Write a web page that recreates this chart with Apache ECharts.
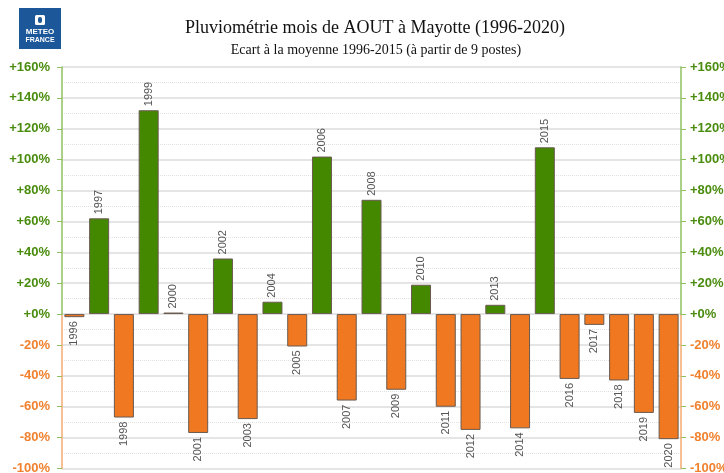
<!DOCTYPE html>
<html>
<head>
<meta charset="utf-8">
<script src="https://cdn.jsdelivr.net/npm/echarts@6/dist/echarts.min.js"></script>
<style>
html,body{margin:0;padding:0;background:#fff;}
#c{width:724px;height:473px;}
</style>
</head>
<body>
<div id="c"></div>
<script>
var years = ['1996','1997','1998','1999','2000','2001','2002','2003','2004','2005','2006','2007','2008','2009','2010','2011','2012','2013','2014','2015','2016','2017','2018','2019','2020'];
var ecarts = [-2, 62, -67, 132, 1, -77, 36, -68, 8, -21, 102, -56, 74, -49, 19, -60, -75, 6, -74, 108, -42, -7, -43, -64, -81];
var yMin = -100, yMax = 160, yStep = 20;

var GREEN = '#448800', ORANGE = '#ef7820';
var GREEN_TXT = '#4a8c0e', ORANGE_TXT = '#f0812e';
var GREEN_LINE = '#8fc060', ORANGE_LINE = '#f5aa70';
var zeroFrac = yMax / (yMax - yMin);

function splitGrad(){
  return new echarts.graphic.LinearGradient(0,0,0,1,[
    {offset:0,color:GREEN_LINE},{offset:zeroFrac,color:GREEN_LINE},
    {offset:zeroFrac,color:ORANGE_LINE},{offset:1,color:ORANGE_LINE}]);
}
function fmt(v){ return (v>=0?'+':'')+v+'%'; }
function labCol(v){ return v>=0?GREEN_TXT:ORANGE_TXT; }

var barData = ecarts.map(function(v){
  var pos = v>=0;
  return {
    value: v,
    itemStyle: {color: pos?GREEN:ORANGE},
    label: {position: pos?'top':'bottom', align: pos?'left':'right'}
  };
});

var chart = echarts.init(document.getElementById('c'), null, {renderer:'canvas'});
var axisCommon = {
  type:'value', min:yMin, max:yMax, interval:yStep,
  axisLine:{show:true, lineStyle:{color:splitGrad(), width:1.5}},
  axisTick:{show:true, length:5, lineStyle:{color:splitGrad(), width:1}},
  axisLabel:{formatter:fmt, color:labCol, fontFamily:'Liberation Sans', fontWeight:'bold', fontSize:13}
};
chart.setOption({
  animation:false,
  backgroundColor:'#fff',
  title:[
    {text:'Pluviométrie mois de AOUT à Mayotte (1996-2020)', left:370, top:14, textAlign:'center',
     textStyle:{fontFamily:'Liberation Serif', fontWeight:'normal', fontSize:18, color:'#111'}},
    {text:'Ecart à la moyenne 1996-2015 (à partir de 9 postes)', left:371, top:38, textAlign:'center',
     textStyle:{fontFamily:'Liberation Serif', fontWeight:'normal', fontSize:14, color:'#111'}}
  ],
  graphic:[
    {type:'group', left:19, top:8, children:[
      {type:'rect', shape:{x:0,y:0,width:42,height:41}, style:{fill:'#1c5799'}},
      {type:'rect', shape:{x:16,y:7,width:10,height:10,r:1.5}, style:{fill:'#fff'}},
      {type:'rect', shape:{x:19,y:9,width:4,height:6,r:2}, style:{fill:'#1c5799'}},
      {type:'text', style:{x:21,y:20,text:'METEO',textAlign:'center',fill:'#fff',font:'bold 8px "Liberation Sans"'}},
      {type:'text', style:{x:21,y:29,text:'FRANCE',textAlign:'center',fill:'#fff',font:'bold 7px "Liberation Sans"'}}
    ]}
  ],
  grid:{left:62, right:43, top:67, bottom:4.5, containLabel:false, outerBoundsMode:'none'},
  xAxis:{type:'category', data:years, axisLine:{show:false}, axisTick:{show:false}, axisLabel:{show:false}, splitLine:{show:false}},
  yAxis:[
    Object.assign({}, axisCommon, {position:'left',
      axisLabel:Object.assign({}, axisCommon.axisLabel, {margin:12}),
      splitLine:{show:true, lineStyle:{color:'#dcdcdc', width:1.5}},
      minorTick:{show:false, splitNumber:2},
      minorSplitLine:{show:true, lineStyle:{color:'#e2e2e2', type:'dotted', width:1}}
    }),
    Object.assign({}, axisCommon, {position:'right',
      axisLabel:Object.assign({}, axisCommon.axisLabel, {margin:9}),
      splitLine:{show:false}
    })
  ],
  series:[{
    type:'bar', data:barData, yAxisIndex:0, barWidth:20,
    itemStyle:{borderColor:'#6a5a50', borderWidth:1},
    label:{show:true, rotate:90, verticalAlign:'middle', distance:4,
      formatter:function(p){ return years[p.dataIndex]; },
      color:'#555', fontFamily:'Liberation Sans', fontSize:11}
  }]
});
</script>
</body>
</html>
